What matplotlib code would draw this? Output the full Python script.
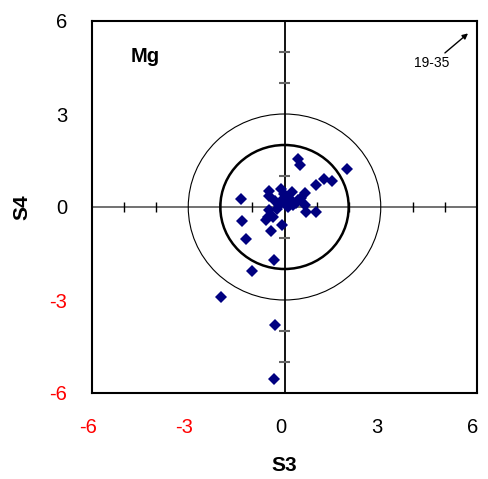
import matplotlib
matplotlib.use("Agg")
import matplotlib.pyplot as plt
from matplotlib.patches import Ellipse
import matplotlib.transforms as mtransforms
import numpy as np

plt.rcParams['font.family'] = ['Liberation Sans', 'DejaVu Sans']

# Data (S3, S4)
s3 = [0.42, 0.47, 1.96, 1.23, 1.49, 0.99, -1.35, -0.49, -0.10, 0.24, 0.63, -0.47,
      -0.02, -0.31, -0.16, 0.05, 0.21, 0.42, 0.10, 0.63, 0.68, 0.99, -0.47, -0.52,
      -0.37, -0.57, -1.33, -0.09, -0.42, -1.20, -0.34, -1.01, -1.98, -0.31, -0.34,
      0.25, 0.35, -0.05, 0.15, 0.50, -0.22]
s4 = [1.54, 1.35, 1.22, 0.90, 0.83, 0.71, 0.27, 0.53, 0.57, 0.49, 0.46, 0.35,
      0.43, 0.19, 0.06, 0.12, 0.17, 0.23, 0.01, 0.06, -0.15, -0.15, -0.10, -0.31,
      -0.31, -0.42, -0.45, -0.57, -0.77, -1.04, -1.71, -2.06, -2.89, -3.81, -5.56,
      0.05, 0.12, 0.25, 0.30, 0.30, -0.05]

tick_vals = [-6, -3, 0, 3, 6]
tick_labels = ['-6', '-3', '0', '3', '6']
minor_ticks = [-5, -4, -2, -1, 1, 2, 4, 5]
circle_radii = [2, 3]

fig = plt.figure(figsize=(4.88, 4.79), dpi=100)
ax = fig.add_axes([92/488, 1-393/479, 385/488, 372/479])
ax.set_xlim(-6, 6)
ax.set_ylim(-6, 6)

# crosshair
ax.axhline(0, color='#666666', lw=1.3, zorder=1)
ax.axvline(0, color='black', lw=1.3, zorder=1)
ax.vlines(minor_ticks, -0.17, 0.17, color='black', lw=1.0, zorder=1)
ax.hlines(minor_ticks, -0.17, 0.17, color='#666666', lw=1.5, zorder=1)

# circles
ax.add_patch(Ellipse((0, 0), 2*circle_radii[0], 2*circle_radii[0], fill=False,
                     lw=1.8, ec='black', zorder=2))
ax.add_patch(Ellipse((0, 0), 2*circle_radii[1], 2*circle_radii[1], fill=False,
                     lw=0.8, ec='black', zorder=2))

ax.plot(s3, s4, linestyle='none', marker='D', color='#000080', markersize=6.3,
        markeredgewidth=0, zorder=3)

ax.set_xticks(tick_vals)
ax.set_yticks(tick_vals)
ax.set_xticklabels(tick_labels)
ax.set_yticklabels(tick_labels)
ax.tick_params(length=0, labelsize=14.5, pad=18)
shift = mtransforms.ScaledTranslation(-4/100, 0, fig.dpi_scale_trans)
for lbl, v in zip(ax.get_xticklabels(), tick_vals):
    lbl.set_color('red' if v < 0 else 'black')
    lbl.set_transform(lbl.get_transform() + shift)
for lbl, v in zip(ax.get_yticklabels(), tick_vals):
    lbl.set_color('red' if v < 0 else 'black')

for sp in ax.spines.values():
    sp.set_linewidth(1.5)
    sp.set_color('black')

ax.set_xlabel('S3', fontsize=15, fontweight='bold', labelpad=14)
ax.set_ylabel('S4', fontsize=15, fontweight='bold', labelpad=13)

ax.text(-4.35, 4.85, 'Mg', fontsize=14.5, fontweight='bold', ha='center', va='center')
ax.annotate('', xy=(5.72, 5.6), xytext=(5.0, 4.97),
            arrowprops=dict(arrowstyle='-|>', color='black', lw=1.0,
                            mutation_scale=8, shrinkA=0, shrinkB=0))
ax.text(4.6, 4.65, '19-35', fontsize=10, ha='center', va='center')

fig.savefig('out.png', dpi=100)
